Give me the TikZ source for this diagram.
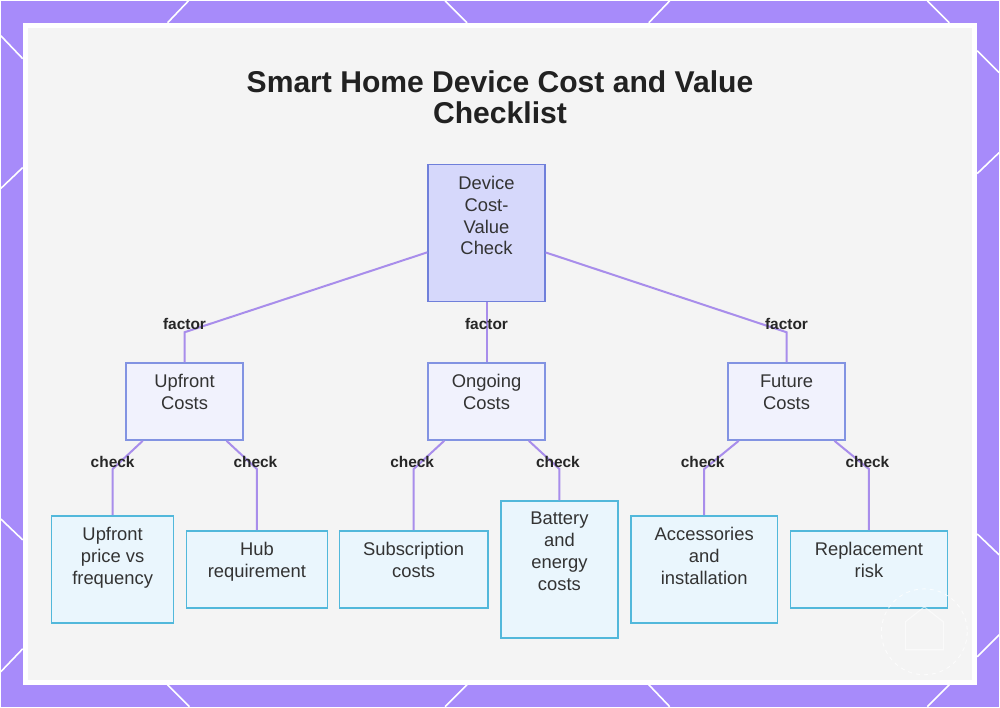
\documentclass[tikz,border=0pt]{standalone}
\usepackage{fontspec}
\setmainfont{Liberation Sans}
\usetikzlibrary{positioning}
\definecolor{bgpurple}{HTML}{A78BFA}
\definecolor{panelgray}{HTML}{F4F4F4}
\definecolor{edgepurple}{HTML}{A88DEB}
\definecolor{rootfill}{HTML}{D6D8FB}
\definecolor{rootdraw}{HTML}{6F7FDA}
\definecolor{midfill}{HTML}{F1F2FD}
\definecolor{middraw}{HTML}{8293E2}
\definecolor{leaffill}{HTML}{EAF6FD}
\definecolor{leafdraw}{HTML}{52B8DB}
\definecolor{inkgray}{HTML}{333333}

\begin{document}
\begin{tikzpicture}[x=0.75pt, y=-0.75pt,
    base/.style={rectangle, draw, line width=1.1pt, inner sep=0pt},
    rootbox/.style={base, fill=rootfill, draw=rootdraw, minimum width=87.75pt, minimum height=102.75pt},
    midbox/.style={base, fill=midfill, draw=middraw, minimum width=88pt, minimum height=57.75pt},
    leafbox/.style={base, fill=leaffill, draw=leafdraw},
    % text sits at the top of each box
    txt/.style={anchor=north, inner sep=0pt, align=center, font=\fontsize{13.8}{16.5}\selectfont, text=inkgray},
    lbl/.style={inner sep=1pt, font=\bfseries\fontsize{11.6}{13}\selectfont, text=black!85},
    link/.style={draw=edgepurple, line width=1.5pt},
    deco/.style={white, line width=1.2pt}
]

    % --- Frame ---
    \fill[bgpurple] (0,0) rectangle (1000,707);
    \fill[white] (22,22) rectangle (978,685);
    \fill[panelgray] (27,27) rectangle (973,680);

    \draw[deco] (167,22) -- (188,0);   \draw[deco] (445,0) -- (467,22);
    \draw[deco] (649,22) -- (670,0);   \draw[deco] (928,0) -- (950,22);
    \draw[deco] (167,685) -- (189,707); \draw[deco] (467,685) -- (445,707);
    \draw[deco] (649,685) -- (670,707); \draw[deco] (950,685) -- (928,707);
    \draw[deco] (0,35) -- (22,58);     \draw[deco] (22,167) -- (0,188);
    \draw[deco] (0,519) -- (22,540);   \draw[deco] (22,649) -- (0,672);
    \draw[deco] (978,50) -- (1000,72); \draw[deco] (978,173) -- (1000,152);
    \draw[deco] (978,534) -- (1000,555); \draw[deco] (978,657) -- (1000,635);

    % --- Title ---
    \node[anchor=north, inner sep=0pt, align=center, text=black!87,
          font=\bfseries\fontsize{22.6}{23.25}\selectfont] (title) at (500,70)
          {Smart Home Device Cost and Value\\Checklist};

    % --- Boxes ---
    \node[rootbox] (root) at (486.5,232.5) {};

    \node[midbox] (up) at (184,401.5) {};
    \node[midbox] (on) at (486.5,401.5) {};
    \node[midbox] (fu) at (787,401.5) {};

    \node[leafbox, minimum width=91.5pt, minimum height=80.25pt] (price) at (112,569.5) {};
    \node[leafbox, minimum width=105.75pt, minimum height=57.75pt] (hub) at (256.5,569.5) {};
    \node[leafbox, minimum width=111.75pt, minimum height=57.75pt] (subs) at (413.5,569.5) {};
    \node[leafbox, minimum width=87.75pt, minimum height=102.75pt] (batt) at (559.5,569.5) {};
    \node[leafbox, minimum width=110.25pt, minimum height=80.25pt] (acc) at (704.5,569.5) {};
    \node[leafbox, minimum width=117.75pt, minimum height=57.75pt] (repl) at (869.5,569.5) {};

    % --- Bends ---
    \coordinate (b-up) at (184,332);
    \coordinate (b-fu) at (787,332);
    \coordinate (b-price) at (112,469);
    \coordinate (b-hub) at (256.5,469);
    \coordinate (b-subs) at (413.5,469);
    \coordinate (b-batt) at (559.5,469);
    \coordinate (b-acc) at (704.5,469);
    \coordinate (b-repl) at (869.5,469);

    % --- Connections ---
    \draw[link] (root) -- (b-up) -- (up);
    \draw[link] (root) -- (on);
    \draw[link] (root) -- (b-fu) -- (fu);

    \draw[link] (up) -- (b-price) -- (price);
    \draw[link] (up) -- (b-hub) -- (hub);
    \draw[link] (on) -- (b-subs) -- (subs);
    \draw[link] (on) -- (b-batt) -- (batt);
    \draw[link] (fu) -- (b-acc) -- (acc);
    \draw[link] (fu) -- (b-repl) -- (repl);

    % --- Box texts ---
    \node[txt] (root-t) at (486.5,175) {Device\\Cost-\\Value\\Check};
    \node[txt] (up-t) at (184,374) {Upfront\\Costs};
    \node[txt] (on-t) at (486.5,374) {Ongoing\\Costs};
    \node[txt] (fu-t) at (787,374) {Future\\Costs};
    \node[txt] (price-t) at (112,527) {Upfront\\price vs\\frequency};
    \node[txt] (hub-t) at (256.5,542) {Hub\\requirement};
    \node[txt] (subs-t) at (413.5,542) {Subscription\\costs};
    \node[txt] (batt-t) at (559.5,512) {Battery\\and\\energy\\costs};
    \node[txt] (acc-t) at (704.5,527) {Accessories\\and\\installation};
    \node[txt] (repl-t) at (869.5,542) {Replacement\\risk};

    % --- Edge labels ---
    \node[lbl] (l-up) at (184,324) {factor};
    \node[lbl] (l-on) at (486.5,324) {factor};
    \node[lbl] (l-fu) at (787,324) {factor};
    \node[lbl] (l-price) at (112,462) {check};
    \node[lbl] (l-hub) at (255,462) {check};
    \node[lbl] (l-subs) at (412,462) {check};
    \node[lbl] (l-batt) at (558,462) {check};
    \node[lbl] (l-acc) at (703,462) {check};
    \node[lbl] (l-repl) at (868,462) {check};

    % watermark
    \draw[white, opacity=0.8, dashed, line width=0.6pt] (925,632) circle [radius=43];
    \draw[white, opacity=0.6, line width=0.8pt] (906,650) -- (906,622) -- (925,607) -- (944,622) -- (944,650) -- cycle;

\end{tikzpicture}
\end{document}
